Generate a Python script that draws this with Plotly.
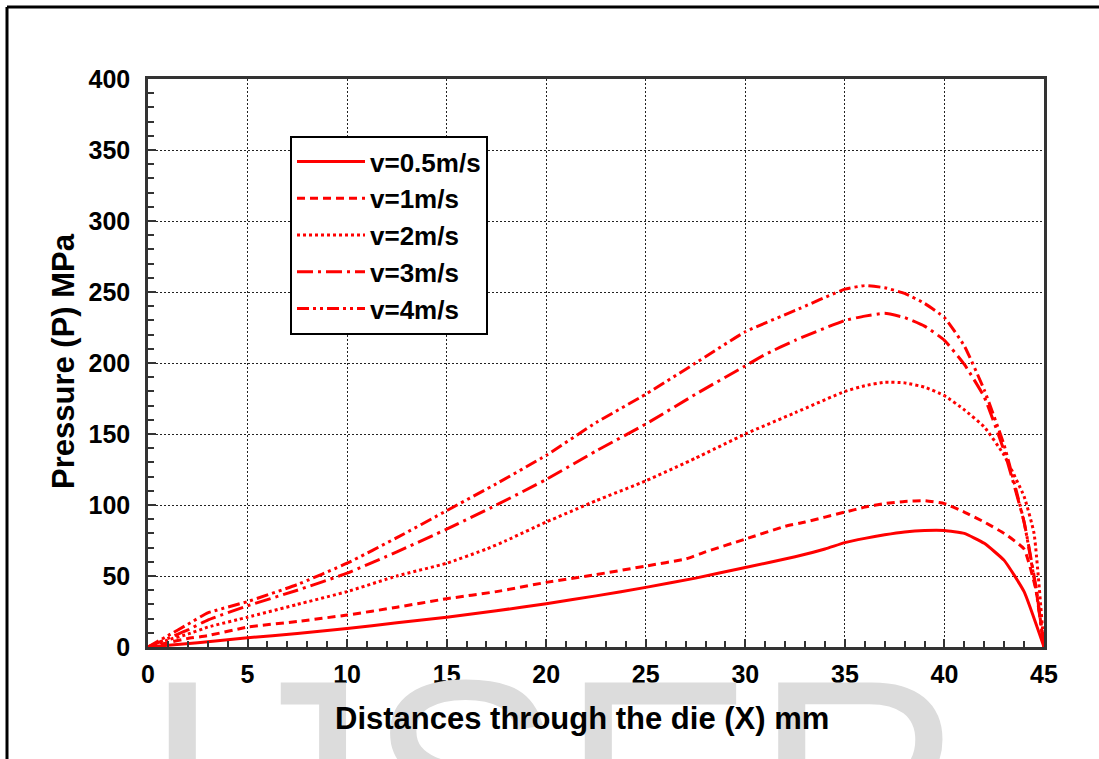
import plotly.graph_objects as go

# ---------------- data ----------------
x_v05 = [0, 2.5, 5, 7.5, 10, 12.5, 15, 17.5, 20, 22.5, 25, 27.5, 30, 32.5, 34, 35, 36, 37, 38, 39, 40, 41, 42, 43, 44, 45]
p_v05 = [0, 3, 6.5, 9.5, 13, 17, 21, 25.5, 30.5, 36, 42, 48.5, 56, 63.5, 69, 73.5, 76.5, 79, 81, 82, 82, 80, 73, 61, 39, 0]

x_v1 = [0, 1, 2, 3, 5, 7.5, 10, 12.5, 15, 17.5, 20, 22.5, 25, 27, 28, 30, 32, 33, 35, 36, 37, 38, 39, 40, 41, 42, 43, 44, 44.6, 45]
p_v1 = [0, 3, 6, 8, 14, 18, 22.5, 28, 34, 39, 45.5, 51, 57, 62, 67, 76, 85, 88, 95, 98.5, 101, 102.5, 103, 101, 95, 88, 80, 69, 40, 0]

x_v2 = [0, 1, 2, 3, 5, 7.5, 10, 12.5, 15, 17, 18, 20, 22.5, 25, 27.5, 30, 32.5, 35, 36, 37, 38, 39, 40, 41, 42, 43, 44, 44.5, 45]
p_v2 = [0, 5, 9, 14, 21, 30, 39, 50, 59, 69, 75, 88, 103, 117, 133, 150, 165, 180, 184, 186.5, 186, 183, 177, 167, 155, 135, 106, 80, 0]

x_v3 = [0, 1, 2, 3, 5, 7.5, 10, 12.5, 15, 17.5, 20, 22.5, 25, 27.5, 30, 31, 32.5, 35, 36, 37, 38, 39, 40, 41, 42, 43, 44, 44.6, 45]
p_v3 = [0, 6, 12, 19, 29, 40, 52, 67, 83, 100, 118, 138, 157, 178, 198, 206, 216, 230, 233, 235, 232, 226, 216, 199, 176, 138, 88, 42, 0]

x_v4 = [0, 1, 2, 3, 5, 7.5, 10, 12.5, 15, 17.5, 20, 22.5, 25, 27.5, 30, 32.5, 35, 36, 37, 38, 39, 40, 41, 42, 43, 44, 44.6, 45]
p_v4 = [0, 8, 16, 24, 32, 44, 59, 77, 96, 115, 135, 158, 178, 200, 222, 237, 252, 254.5, 253, 249, 242, 232, 212, 181, 142, 88, 40, 0]

series_names = ["v=0.5m/s", "v=1m/s", "v=2m/s", "v=3m/s", "v=4m/s"]
x_ticks = [0, 5, 10, 15, 20, 25, 30, 35, 40, 45]
y_ticks = [0, 50, 100, 150, 200, 250, 300, 350, 400]

x_title = "Distances through the die (X) mm"
y_title = "Pressure (P) MPa"
watermark = "IJSER"

# ---------------- styling ----------------
W, H = 1099, 759
L, R, T, B = 148, 1044, 79, 647  # plot area in pixels
pw, ph = R - L, B - T

def px_x(px):
    return (px - L) / pw

def px_y(py):
    return (B - py) / ph

FONT = "Liberation Sans, Arial, Helvetica, sans-serif"
RED = "#ff0000"
dashes = ["solid", "8px,5px", "3px,3px", "16px,5px,3px,5px", "12px,4px,3px,4px,3px,4px"]

fig = go.Figure()
for name, xs, ys, d in zip(series_names,
                           [x_v05, x_v1, x_v2, x_v3, x_v4],
                           [p_v05, p_v1, p_v2, p_v3, p_v4],
                           dashes):
    fig.add_trace(go.Scatter(x=xs, y=ys, mode="lines", name=name,
                             line=dict(color=RED, width=3, dash=d, shape="spline", smoothing=0.4)))

axis_common = dict(
    showline=True, linewidth=2.5, linecolor="#333333", mirror=True,
    showgrid=True, gridcolor="#222222", gridwidth=1, griddash="2px,2px",
    zeroline=False, ticks="inside", ticklen=8, tickwidth=1.5, tickcolor="#333333",
    tickfont=dict(family=FONT, size=25, color="black", weight="bold"),
)

fig.update_xaxes(range=[0, 45], tickvals=x_ticks, ticktext=[str(v) for v in x_ticks],
                 minor=dict(dtick=1, ticks="inside", ticklen=6, tickcolor="#333333", showgrid=False),
                 ticklabelstandoff=3, **axis_common)
fig.update_yaxes(range=[0, 400], tickvals=y_ticks, ticktext=[str(v) for v in y_ticks],
                 minor=dict(dtick=10, ticks="inside", ticklen=6, tickcolor="#333333", showgrid=False),
                 ticklabelstandoff=10, **axis_common)

annotations = [
    # watermark (drawn first so titles sit on top of it)
    dict(text=watermark, x=px_x(140), y=px_y(617), xref="paper", yref="paper",
         xanchor="left", yanchor="top", showarrow=False,
         font=dict(family=FONT, size=290, color="#dcdcdc")),
    dict(text=x_title, x=px_x(582), y=px_y(718), xref="paper", yref="paper",
         xanchor="center", yanchor="middle", showarrow=False,
         font=dict(family=FONT, size=31, color="black", weight="bold")),
    dict(text=y_title, x=px_x(63), y=px_y(361), xref="paper", yref="paper",
         xanchor="center", yanchor="middle", showarrow=False, textangle=-90,
         font=dict(family=FONT, size=31, color="black", weight="bold")),
]

shapes = [
    dict(type="line", xref="paper", yref="paper", x0=px_x(7), x1=px_x(1105), y0=px_y(7), y1=px_y(7),
         line=dict(color="black", width=3)),
    dict(type="line", xref="paper", yref="paper", x0=px_x(7), x1=px_x(7), y0=px_y(7), y1=px_y(770),
         line=dict(color="black", width=3)),
]

fig.update_layout(
    width=W, height=H, autosize=False,
    margin=dict(l=L, r=W - R, t=T, b=H - B, pad=0),
    paper_bgcolor="white", plot_bgcolor="white",
    showlegend=True,
    legend=dict(x=px_x(290), y=px_y(136), xanchor="left", yanchor="top",
                bgcolor="white", bordercolor="black", borderwidth=2,
                itemwidth=68, tracegroupgap=0,
                font=dict(family=FONT, size=26, color="black", weight="bold")),
    annotations=annotations,
    shapes=shapes,
)

fig.write_html("out.html", config={"displayModeBar": False},
               post_script="document.body.style.margin='0';document.body.style.overflow='hidden';")
